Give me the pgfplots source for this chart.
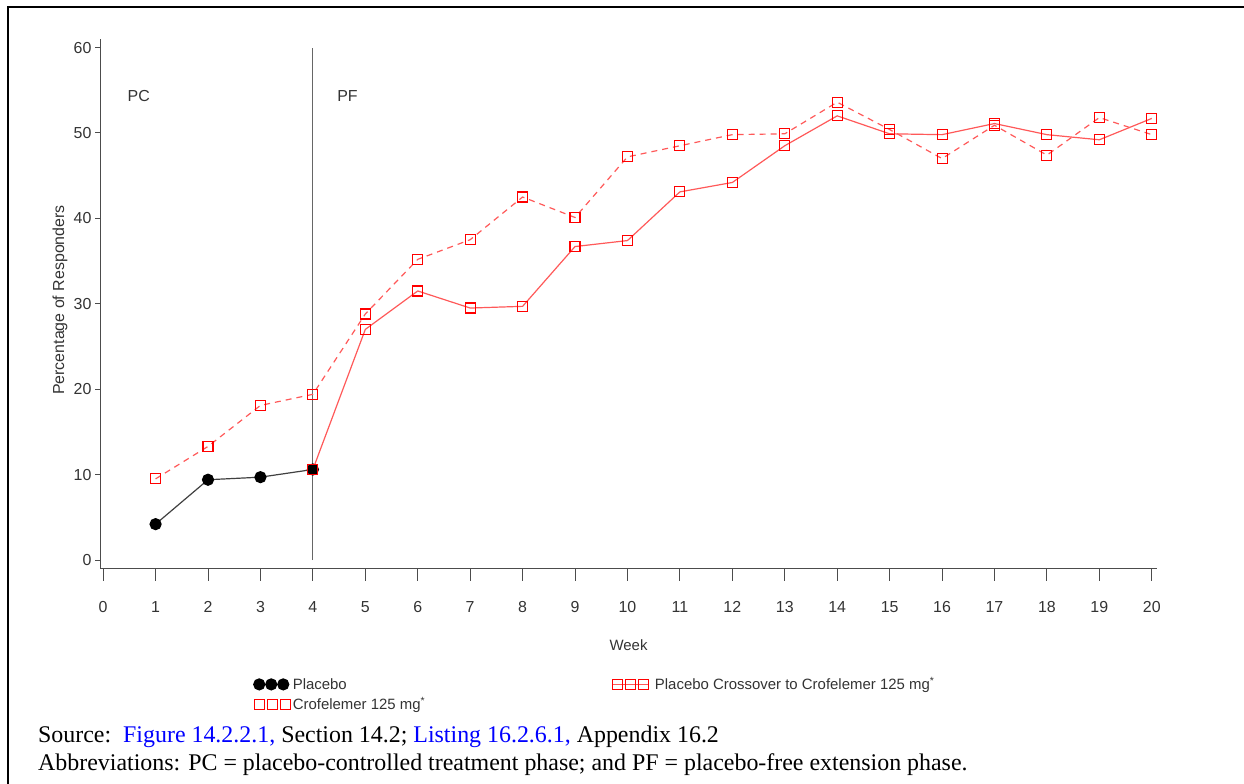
\documentclass[border=0pt]{standalone}
\usepackage{fontspec}
\setmainfont{Liberation Serif}
\newfontfamily\arial{Liberation Sans}
\usepackage{pgfplots}
\pgfplotsset{compat=1.18}
\definecolor{lred}{rgb}{1,0.35,0.35}
\begin{document}
\begin{tikzpicture}[x=1bp,y=1bp]
\path[use as bounding box] (0,0) rectangle (1244,784);
\draw[line width=2.5bp] (8,0) -- (8,777) -- (1244,777);
\begin{axis}[
  at={(100bp,215bp)}, anchor=south west,
  scale only axis, width=1057bp, height=530bp,
  xmin=-0.06, xmax=20.1, ymin=-1.05, ymax=61,
  axis lines=left, axis line style={-, black!70, line width=1bp},
  xtick={0,...,20}, ytick={0,10,...,60},
  tick align=outside, major tick length=5bp,
  x tick style={/pgfplots/major tick length=12bp},
  tick style={black!70, line width=1bp},
  /pgf/number format/assume math mode=true,
  font=\arial\fontsize{16}{18}\selectfont,
  tick label style={black!80, font=\arial\fontsize{16}{18}\selectfont},
  xticklabel style={yshift=-24bp},
  xlabel={Week}, ylabel={Percentage of Responders},
  xlabel style={at={(axis description cs:0.5,-0.1434)}, anchor=center, black!80, font=\arial\fontsize{15}{17}\selectfont},
  ylabel style={at={(axis description cs:-0.0378,0.5075)}, anchor=center, rotate=0, black!80},
  legend columns=2,
  legend cell align=left,
  legend style={at={(axis description cs:0.1447,-0.2005)}, anchor=north west, draw=none, fill=none, inner sep=0pt,
    font=\arial\fontsize{15}{17}\selectfont, text=black!80, row sep=2bp,
    /tikz/every even column/.append style={column sep=184bp}},
]
\addplot[black!60, line width=1bp, forget plot] coordinates {(4,0) (4,60)};
\addplot[black!75, line width=1.2bp, mark=*, mark size=5.5bp, mark options={fill=black, draw=black},
  legend image code/.code={\foreach \i in {0,12,24} {\fill[black] (\i bp,0) circle (5.5bp);}}]
  coordinates {(1,4.2) (2,9.4) (3,9.7) (4,10.6)};
\addlegendentry{Placebo}
\addplot[lred, line width=1.2bp, mark=square, mark size=5bp, mark options={solid, draw=red, line width=1.1bp},
  legend image code/.code={\draw[lred, solid, line width=1.2bp] (-5.5bp,0) -- (31.5bp,0);
    \foreach \i in {0,13,26} {\draw[red, solid, line width=1.1bp] (\i bp,0) ++(-5bp,-5bp) rectangle ++(10bp,10bp);}\path (-5.5bp,0) (35bp,0);}]
  coordinates {(4,10.6) (5,27.0) (6,31.5) (7,29.5) (8,29.7) (9,36.7) (10,37.4) (11,43.1) (12,44.2) (13,48.5) (14,52.0) (15,49.9) (16,49.8) (17,51.1) (18,49.8) (19,49.2) (20,51.7)};
\addlegendentry{Placebo Crossover to Crofelemer 125 mg\textsuperscript{*}}
\addplot[lred, line width=1.2bp, dash pattern=on 6bp off 5bp, mark=square, mark size=5bp, mark options={solid, draw=red, line width=1.1bp},
  legend image code/.code={\foreach \i in {0,13,26} {\draw[red, solid, line width=1.1bp] (\i bp,0) ++(-5bp,-5bp) rectangle ++(10bp,10bp);}}]
  coordinates {(1,9.5) (2,13.3) (3,18.1) (4,19.4) (5,28.8) (6,35.2) (7,37.5) (8,42.5) (9,40.1) (10,47.2) (11,48.5) (12,49.8) (13,49.9) (14,53.6) (15,50.4) (16,47.0) (17,50.9) (18,47.4) (19,51.8) (20,49.8)};
\addlegendentry{Crofelemer 125 mg\textsuperscript{*}}
\node[anchor=west, black!80, font=\arial\fontsize{16}{18}\selectfont] at (axis cs:0.4,54.3) {PC};
\node[anchor=west, black!80, font=\arial\fontsize{16}{18}\selectfont] at (axis cs:4.4,54.3) {PF};
\end{axis}
\node[anchor=base west, inner sep=0pt, font=\fontsize{24}{27}\selectfont] at (38,41) {Source:\ \ \textcolor{blue}{Figure 14.2.2.1,} Section 14.2; \textcolor{blue}{Listing 16.2.6.1,} Appendix 16.2};
\node[anchor=base west, inner sep=0pt, font=\fontsize{24}{27}\selectfont] at (38,13) {Abbreviations: PC = placebo-controlled treatment phase; and PF = placebo-free extension phase.};
\end{tikzpicture}
\end{document}
